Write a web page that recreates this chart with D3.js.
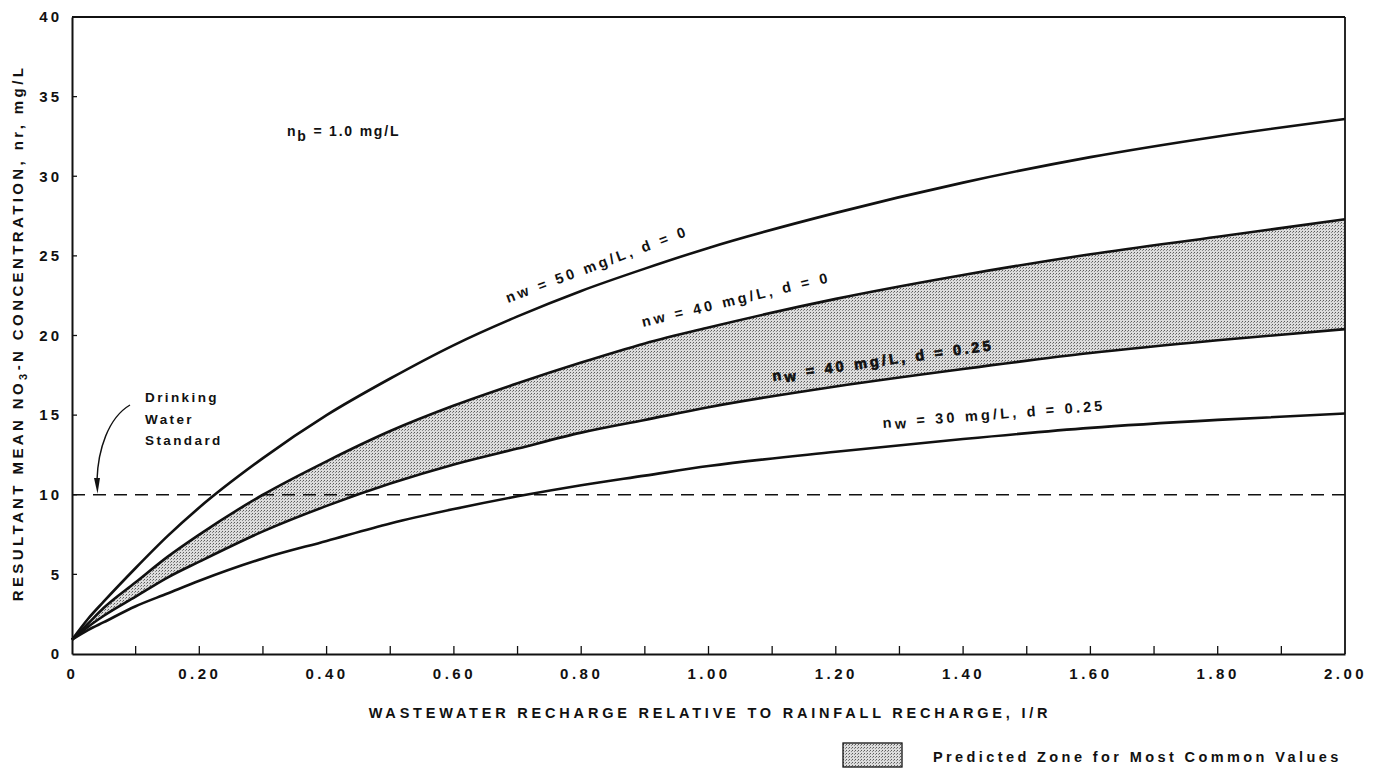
<!DOCTYPE html>
<html>
<head>
<meta charset="utf-8">
<script src="https://cdn.jsdelivr.net/npm/d3@7"></script>
<style>
  body { margin: 0; background: #fff; }
  svg { display: block; }
  text { font-family: "Liberation Sans", Arial, sans-serif; font-weight: bold; fill: #111; }
</style>
</head>
<body>
<div id="chart"></div>
<script>
// I/R values where the curves were read
const ratio = [0, 0.025, 0.05, 0.1, 0.15, 0.2, 0.3, 0.4, 0.5, 0.6, 0.7, 0.8, 0.9, 1.0, 1.2, 1.4, 1.6, 1.8, 2.0];

// resultant NO3-N concentration (mg/L)
const nw50d0   = [0.9, 2.2, 3.3, 5.4, 7.4, 9.2, 12.3, 15.0, 17.3, 19.4, 21.2, 22.8, 24.2, 25.5, 27.7, 29.6, 31.2, 32.5, 33.6];
const nw40d0   = [0.9, 1.9, 2.9, 4.5, 6.1, 7.5, 10.0, 12.1, 14.0, 15.6, 17.0, 18.3, 19.5, 20.5, 22.3, 23.8, 25.1, 26.2, 27.3];
const nw40d25  = [0.9, 1.7, 2.4, 3.6, 4.8, 5.8, 7.7, 9.3, 10.7, 11.9, 12.9, 13.9, 14.7, 15.5, 16.8, 17.9, 18.9, 19.7, 20.4];
const nw30d25  = [0.9, 1.5, 2.0, 3.0, 3.8, 4.6, 6.0, 7.1, 8.2, 9.1, 9.9, 10.6, 11.2, 11.8, 12.7, 13.5, 14.2, 14.7, 15.1];

const drinkingStd = 10;

const xTicks = [0, 0.2, 0.4, 0.6, 0.8, 1.0, 1.2, 1.4, 1.6, 1.8, 2.0];
const xMinorTicks = [0.1, 0.3, 0.5, 0.7, 0.9, 1.1, 1.3, 1.5, 1.7, 1.9];
const yTicks = [0, 5, 10, 15, 20, 25, 30, 35, 40];

const width = 1376, height = 770;
const plotLeft = 72, plotRight = 1345, plotTop = 17, plotBottom = 654;

const svg = d3.select("#chart").append("svg")
  .attr("width", width)
  .attr("height", height);

// stipple pattern for the shaded zone
const defs = svg.append("defs");
const pat = defs.append("pattern")
  .attr("id", "stipple")
  .attr("patternUnits", "userSpaceOnUse")
  .attr("width", 3).attr("height", 3);
pat.append("rect").attr("width", 3).attr("height", 3).attr("fill", "#dcdcdc");
pat.append("rect").attr("x", 0).attr("y", 0).attr("width", 1).attr("height", 1).attr("fill", "#5a5a5a");
pat.append("rect").attr("x", 2).attr("y", 1).attr("width", 1).attr("height", 1).attr("fill", "#8a8a8a");

const x = d3.scaleLinear().domain([0, 2]).range([plotLeft, plotRight]);
const y = d3.scaleLinear().domain([0, 40]).range([plotBottom, plotTop]);

// shaded zone between nw=40 d=0 and nw=40 d=0.25
const zone = ratio.map((r, i) => ({ r: r, hi: nw40d0[i], lo: nw40d25[i] }));
svg.append("path")
  .datum(zone)
  .attr("d", d3.area()
    .x(d => x(d.r))
    .y0(d => y(d.lo))
    .y1(d => y(d.hi))
    .curve(d3.curveMonotoneX))
  .attr("fill", "url(#stipple)");

// dashed drinking water standard line
svg.append("line")
  .attr("x1", x(0)).attr("x2", x(2))
  .attr("y1", y(drinkingStd)).attr("y2", y(drinkingStd))
  .attr("stroke", "#111")
  .attr("stroke-width", 1.6)
  .attr("stroke-dasharray", "13,8");

// curves
const line = d3.line()
  .x(d => x(d[0]))
  .y(d => y(d[1]))
  .curve(d3.curveMonotoneX);

[nw50d0, nw40d0, nw40d25, nw30d25].forEach(vals => {
  svg.append("path")
    .datum(ratio.map((r, i) => [r, vals[i]]))
    .attr("d", line)
    .attr("fill", "none")
    .attr("stroke", "#111")
    .attr("stroke-width", 2.6);
});

// axes
const xAxis = d3.axisBottom(x).tickValues(xTicks).tickSize(0).tickPadding(14)
  .tickFormat(d => d === 0 ? "0" : d3.format(".2f")(d));
const gx = svg.append("g")
  .attr("transform", `translate(0,${plotBottom})`)
  .call(xAxis);
gx.select(".domain").attr("stroke", "#111").attr("stroke-width", 2);
gx.selectAll("text").attr("font-size", 15).attr("letter-spacing", "3.5px").attr("fill", "#111");

// x ticks pointing up, inside the plot
svg.append("g").selectAll("line")
  .data(xTicks.slice(1, -1).concat(xMinorTicks))
  .join("line")
  .attr("x1", d => x(d)).attr("x2", d => x(d))
  .attr("y1", plotBottom).attr("y2", plotBottom - 8)
  .attr("stroke", "#111").attr("stroke-width", 1.3);

const yAxis = d3.axisLeft(y).tickValues(yTicks).tickSize(0).tickPadding(10);
const gy = svg.append("g")
  .attr("transform", `translate(${plotLeft},0)`)
  .call(yAxis);
gy.select(".domain").attr("stroke", "#111").attr("stroke-width", 2);
gy.selectAll("text").attr("font-size", 15).attr("letter-spacing", "3px").attr("fill", "#111");

svg.append("g").selectAll("line")
  .data(yTicks.slice(1, -1))
  .join("line")
  .attr("x1", plotLeft).attr("x2", plotLeft + 5)
  .attr("y1", d => y(d)).attr("y2", d => y(d))
  .attr("stroke", "#111").attr("stroke-width", 1.3);

// frame top and right
svg.append("line").attr("x1", plotLeft).attr("x2", plotRight).attr("y1", plotTop).attr("y2", plotTop)
  .attr("stroke", "#111").attr("stroke-width", 1.8);
svg.append("line").attr("x1", plotRight).attr("x2", plotRight).attr("y1", plotTop).attr("y2", plotBottom)
  .attr("stroke", "#111").attr("stroke-width", 1.8);

// axis titles
svg.append("text")
  .attr("x", 710).attr("y", 718)
  .attr("text-anchor", "middle")
  .attr("font-size", 14.5)
  .attr("letter-spacing", "3.8px")
  .text("WASTEWATER RECHARGE RELATIVE TO RAINFALL RECHARGE, I/R");

const yTitle = svg.append("text")
  .attr("transform", "translate(23,333) rotate(-90)")
  .attr("text-anchor", "middle")
  .attr("font-size", 15)
  .attr("letter-spacing", "3.4px");
yTitle.append("tspan").text("RESULTANT MEAN NO");
yTitle.append("tspan").attr("dy", 4).attr("font-size", 11).text("3");
yTitle.append("tspan").attr("dy", -4).text("-N  CONCENTRATION, nr, mg/L");

// n_b annotation
const nb = svg.append("text")
  .attr("x", 287).attr("y", 136)
  .attr("font-size", 14)
  .attr("letter-spacing", "1.8px");
nb.append("tspan").text("n");
nb.append("tspan").attr("dy", 5).text("b");
nb.append("tspan").attr("dy", -5).text(" = 1.0 mg/L");

// curve labels, rotated to follow each curve
function curveLabel(px, py, angle, parts, size, heavy) {
  const t = svg.append("text")
    .attr("transform", `translate(${px},${py}) rotate(${angle})`)
    .attr("font-size", size)
    .attr("letter-spacing", "3.2px");
  if (heavy) t.attr("stroke", "#111").attr("stroke-width", 0.7);
  parts.forEach(p => {
    const s = t.append("tspan").text(p.t);
    if (p.dy) s.attr("dy", p.dy);
  });
}
curveLabel(508, 303, -20.5, [{ t: "nw = 50 mg/L, d = 0" }], 14.5);
curveLabel(643, 327, -13.5, [{ t: "nw = 40 mg/L, d = 0" }], 14.5);
curveLabel(773, 381, -8, [{ t: "n" }, { t: "w", dy: 3 }, { t: " = 40 mg/L, d = 0.25", dy: -3 }], 14.5, true);
curveLabel(883, 428, -4.5, [{ t: "n" }, { t: "w", dy: 2 }, { t: " = 30 mg/L, d = 0.25", dy: -2 }], 14.5);

// drinking water standard note with curved arrow
["Drinking", "Water", "Standard"].forEach((s, i) => {
  svg.append("text")
    .attr("x", 145).attr("y", 402 + i * 21.5)
    .attr("font-size", 13.5)
    .attr("letter-spacing", "2.4px")
    .text(s);
});
svg.append("path")
  .attr("d", "M130,405 C108,418 98,450 97,480")
  .attr("fill", "none").attr("stroke", "#111").attr("stroke-width", 1.4);
svg.append("path")
  .attr("d", `M94,478 L100,478 L97.5,${y(drinkingStd) - 1} Z`)
  .attr("fill", "#111");

// legend
svg.append("rect")
  .attr("x", 843).attr("y", 743).attr("width", 59).attr("height", 24)
  .attr("fill", "url(#stipple)")
  .attr("stroke", "#111").attr("stroke-width", 1.3);
svg.append("text")
  .attr("x", 933).attr("y", 762)
  .attr("font-size", 14.5)
  .attr("letter-spacing", "3.4px")
  .text("Predicted Zone for Most Common Values");
</script>
</body>
</html>
